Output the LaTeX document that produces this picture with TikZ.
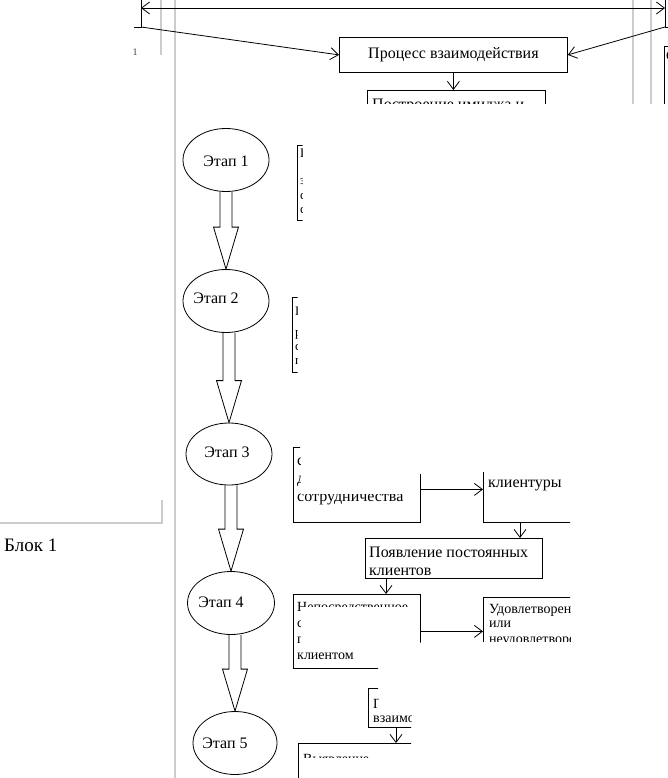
\documentclass[tikz,border=0pt]{standalone}
\usepackage{fontspec}
\setmainfont{Liberation Serif}
\usetikzlibrary{arrows.meta,shapes.geometric,calc}
\newcommand\blockarrow[2]{%
  \coordinate (ba-#1) at (#1.south -| #2.north);
  \draw[blk] ($(ba-#1)+(-6,0)$) -- ($(#2.north)+(-6,-42)$) -- ($(#2.north)+(-12.5,-42)$)
    -- (#2.north) -- ($(#2.north)+(12.5,-42)$) -- ($(#2.north)+(6,-42)$) -- ($(ba-#1)+(6,0)$);}
\begin{document}
\begin{tikzpicture}[x=1pt,y=-1pt,
  ln/.style={line width=0.8pt, black},
  arr/.style={ln, -{Straight Barb[length=8pt,width=12pt]}},
  dbl/.style={ln, {Straight Barb[length=8pt,width=12pt]}-{Straight Barb[length=8pt,width=12pt]}},
  grayln/.style={line width=1.2pt, black!20},
  box/.style={draw, line width=0.8pt, rectangle, inner sep=0pt, anchor=north west},
  stage/.style={draw, line width=0.8pt, ellipse, inner sep=0pt},
  blk/.style={line width=0.8pt, black},
  f16/.style={font=\fontsize{16}{18}\selectfont},
  f14/.style={font=\fontsize{14}{16}\selectfont},
  f13/.style={font=\fontsize{13}{14}\selectfont},
  txt/.style={inner sep=0pt, anchor=base west},
  lbl/.style={inner sep=0pt, font=\fontsize{16}{18}\selectfont},
]
\useasboundingbox (0,0) rectangle (668,778);
\fill[white] (0,0) rectangle (668,778);

% gray frame lines
\draw[grayln] (161,0) -- (161,55);
\draw[grayln] (175,0) -- (175,778);
\draw[grayln] (633,0) -- (633,104);
\draw[grayln] (651,0) -- (651,104);
\draw[grayln] (162,500) -- (162,523) -- (0,523);

% top part
\coordinate (tlA) at (141,0); \coordinate (tl) at (141,8);
\coordinate (tlB) at (141,27); \coordinate (tlC) at (134,27);
\coordinate (trA) at (665,0); \coordinate (tr) at (665,8);
\coordinate (trB) at (665,27); \coordinate (trC) at (668,27);
\draw[ln] (tlA) -- (tlB) -- (tlC);
\draw[ln] (trA) -- (trB) -- (trC);
\draw[dbl] (tl) -- (tr);
\node[inner sep=0pt, font=\fontsize{10}{11}\selectfont, black!75] (one) at (135,52) {1};

\node[box, minimum width=228, minimum height=35, f16] (b0) at (339,37) {Процесс взаимодействия};
\draw[arr] (tlB) -- (b0.west);
\draw[arr] (trB) -- (b0.east);

\begin{scope}
  \clip (360,85) rectangle (552,104);
  \node[box, minimum width=178, minimum height=40] (b1) at (367,90) {};
  \node[txt, f16] (b1t) at (372,110) {Построение имиджа и};
\end{scope}
\draw[arr] (b0.south) -- (b0.south |- b1.north);

\begin{scope}
  \clip (655,40) rectangle (668.5,104);
  \node[box, minimum width=60, minimum height=70] (rb) at (664,46) {};
  \node[txt, f14] (rbt) at (666,61) {Сервис};
\end{scope}

\node[txt, font=\fontsize{19}{22}\selectfont] (blok) at (4,551) {Блок 1};

% stages
\node[stage, minimum width=86, minimum height=63] (e1) at (226,160) {};
\node[lbl] (l1) at (226,161) {Этап 1};
\node[stage, minimum width=86, minimum height=63] (e2) at (226,301) {};
\node[lbl] (l2) at (216,298) {Этап 2};
\node[stage, minimum width=86, minimum height=62] (e3) at (229,454) {};
\node[lbl] (l3) at (227,452) {Этап 3};
\node[stage, minimum width=87, minimum height=63] (e4) at (231,603) {};
\node[lbl] (l4) at (221,602) {Этап 4};
\node[stage, minimum width=84, minimum height=63] (e5) at (235,743) {};
\node[lbl] (l5) at (225,743) {Этап 5};
\blockarrow{e1}{e2}
\blockarrow{e2}{e3}
\blockarrow{e3}{e4}
\blockarrow{e4}{e5}

% stage 1 box
\begin{scope}
  \clip (290,140) rectangle (302.5,225);
  \node[box, minimum width=150, minimum height=75] (s1) at (297,145) {};
  \node[txt, f13] at (300,158) {Поиск};
  \node[txt, f13] at (300,184) {заинтересованных};
  \node[txt, f13] at (300,199) {сторон,};
  \node[txt, f13] at (300,213) {сбор информации};
\end{scope}

% stage 2 box
\begin{scope}
  \clip (287,292) rectangle (297.5,377);
  \node[box, minimum width=150, minimum height=75] (s2) at (292,297) {};
  \node[txt, f13] at (295,315) {Привлечение};
  \node[txt, f13] at (295,336) {раскрытие};
  \node[txt, f13] at (295,350) {совместной};
  \node[txt, f13] at (295,364) {перспективы};
\end{scope}

% stage 3 boxes
\begin{scope}
  \clip (288,440) rectangle (300,530) (300,494) rectangle (426,530) (414,474) rectangle (426,530);
  \node[box, minimum width=127, minimum height=75] (s3l) at (293,447) {};
  \node[txt, f16] at (297,465) {создание};
  \node[txt, f16] at (297,483) {доверительного};
  \node[txt, f16] at (297,501) {сотрудничества};
\end{scope}
\begin{scope}
  \clip (479,472) rectangle (570,528);
  \node[box, minimum width=120, minimum height=102] (s3r) at (483,420) {};
  \node[txt, f16] (s3rt) at (488,487) {клиентуры};
\end{scope}
\coordinate (c3a) at ([yshift=-4.5pt]s3l.east);
\draw[arr] (c3a) -- (c3a -| s3r.west);

\node[box, minimum width=177, minimum height=40] (app) at (365,538) {};
\node[txt, f16] (appt1) at (369,557) {Появление постоянных};
\node[txt, f16] (appt2) at (369,575) {клиентов};
\coordinate (c3b) at ($(s3r.south west)+(37,0)$);
\draw[arr] (c3b) -- (c3b |- app.north);

% stage 4 boxes
\begin{scope}
  \clip (288,589) rectangle (300.5,672) (300.5,589) rectangle (426,606) (414,589) rectangle (426,642.5) (300.5,650) rectangle (378,672);
  \node[box, minimum width=127, minimum height=74] (s4l) at (293,594) {};
  \node[txt, f14] at (297,611) {Непосредственное};
  \node[txt, f14] at (297,627) {сотрудничество};
  \node[txt, f14] at (297,643) {предприятия с};
  \node[txt, f14] at (297,659) {клиентом};
\end{scope}
\coordinate (c4) at ($(app.south west)+(21,0)$);
\draw[arr] (c4) -- (c4 |- s4l.north);

\begin{scope}
  \clip (479,592) rectangle (570,641);
  \node[box, minimum width=120, minimum height=80] (s4r) at (483,597) {};
  \node[txt, f14] at (489,613) {Удовлетворенность};
  \node[txt, f14] at (489,627) {или};
  \node[txt, f14] at (489,643) {неудовлетворенность};
\end{scope}
\draw[arr] (s4l.east) -- (s4l.east -| s4r.west);

% stage 5 boxes
\begin{scope}
  \clip (364,684) rectangle (378,731) (378,711) rectangle (411,731);
  \node[box, minimum width=80, minimum height=39] (s5a) at (368,688) {};
  \node[txt, f14] at (373,708) {Повторное};
  \node[txt, f14] at (373,722) {взаимодействие};
\end{scope}
\begin{scope}
  \clip (294,739) rectangle (411,757.5) (294,739) rectangle (302,780);
  \node[box, minimum width=140, minimum height=60] (s5b) at (298,743) {};
  \node[txt, f14] at (303,763) {Выявление};
\end{scope}
\coordinate (c5) at ($(s5a.south west)+(28,0)$);
\draw[arr] (c5) -- (c5 |- s5b.north);
\end{tikzpicture}
\end{document}
